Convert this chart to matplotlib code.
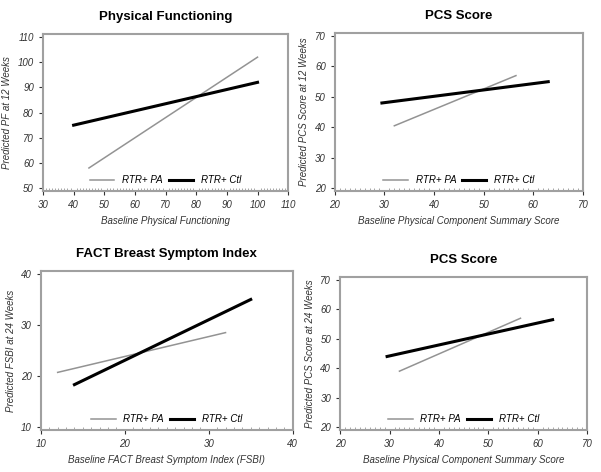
import matplotlib.pyplot as plt
from matplotlib.ticker import MultipleLocator

plt.rcParams['font.family'] = ['Liberation Sans', 'DejaVu Sans']

# panel data: (x start, x end), (y start, y end)
titles = ["Physical Functioning", "PCS Score", "FACT Breast Symptom Index", "PCS Score"]
xlabels = ["Baseline Physical Functioning", "Baseline Physical Component Summary Score",
           "Baseline FACT Breast Symptom Index (FSBI)", "Baseline Physical Component Summary Score"]
ylabels = ["Predicted PF at 12 Weeks", "Predicted PCS Score at 12 Weeks",
           "Predicted FSBI at 24 Weeks", "Predicted PCS Score at 24 Weeks"]

pa_x = [[45, 100], [32, 56.5], [12, 32], [32, 56.5]]
pa_y = [[58, 102], [40.5, 57], [20.7, 28.5], [39, 57]]
ctl_x = [[40, 100], [29.5, 63], [14, 35], [29.5, 63]]
ctl_y = [[75, 92], [48, 55], [18.3, 35], [44, 56.5]]

xticks = [range(30, 111, 10), range(20, 71, 10), range(10, 41, 10), range(20, 71, 10)]
yticks = [range(50, 111, 10), range(20, 71, 10), range(10, 41, 10), range(20, 71, 10)]

# axes rectangles in figure fractions
rects = [[0.0715, 0.595, 0.408, 0.333],
         [0.557, 0.595, 0.413, 0.335],
         [0.068, 0.089, 0.419, 0.337],
         [0.566, 0.089, 0.411, 0.324]]

fig = plt.figure(figsize=(6.01, 4.72), dpi=100)

for i in range(4):
    ax = fig.add_axes(rects[i])
    ax.plot(pa_x[i], pa_y[i], color='#939393', lw=1.1, label='RTR+ PA')
    ax.plot(ctl_x[i], ctl_y[i], color='black', lw=2.2, label='RTR+ Ctl')

    xt = list(xticks[i])
    yt = list(yticks[i])
    ax.set_xlim(xt[0], xt[-1])
    ypad = (yt[-1] - yt[0]) * 0.02
    ax.set_ylim(yt[0] - ypad, yt[-1] + ypad)
    ax.set_xticks(xt)
    ax.set_yticks(yt)
    ax.xaxis.set_minor_locator(MultipleLocator((xt[1] - xt[0]) / 10))
    ax.tick_params(axis='both', which='major', labelsize=7, colors='#333333', length=3)
    ax.tick_params(axis='x', which='minor', direction='in', length=2, color='#999999')
    for lab in ax.get_xticklabels() + ax.get_yticklabels():
        lab.set_style('italic')

    for sp in ax.spines.values():
        sp.set_color('#a0a0a0')
        sp.set_linewidth(1.5)

    ax.set_title(titles[i], fontsize=9.5, fontweight='bold', pad=10)
    ax.set_xlabel(xlabels[i], fontsize=7, style='italic', color='#333333')
    ax.set_ylabel(ylabels[i], fontsize=7, style='italic', color='#333333')

    ax.legend(loc='lower center', ncol=2, frameon=False,
              handlelength=2.5, columnspacing=0.6, borderaxespad=0.2,
              prop={'style': 'italic', 'size': 7})

fig.savefig('out.png', dpi=100)
